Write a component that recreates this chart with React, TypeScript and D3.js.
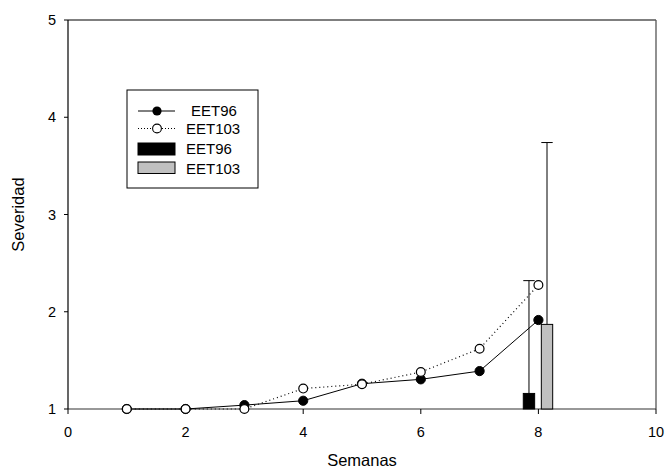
import * as d3 from 'd3';

const weeks = [1, 2, 3, 4, 5, 6, 7, 8];
const eet96Line = [1.0, 1.0, 1.04, 1.085, 1.26, 1.305, 1.39, 1.915];
const eet103Line = [1.0, 1.0, 1.0, 1.21, 1.255, 1.38, 1.62, 2.275];

// bars at week 8 (mean + upper error)
const barSeries = ['EET96', 'EET103'];
const barMeans = [1.16, 1.87];
const barErrors = [1.16, 1.87];
const barFills = ['#000000', '#c0c0c0'];

const xTicks = [0, 2, 4, 6, 8, 10];
const yTicks = [1, 2, 3, 4, 5];

const W = 666;
const H = 474;
const margin = { top: 20, right: 10, bottom: 65, left: 68 };
const FONT = 'Liberation Sans, Arial, sans-serif';

export default function App() {
  const innerW = W - margin.left - margin.right;
  const innerH = H - margin.top - margin.bottom;

  const x = d3.scaleLinear().domain([0, 10]).range([0, innerW]);
  const y = d3.scaleLinear().domain([1, 5]).range([innerH, 0]);

  const band = d3
    .scaleBand<string>()
    .domain(barSeries)
    .range([x(7.743), x(8.243)])
    .paddingInner(0.37)
    .paddingOuter(0);

  const line = d3
    .line<number>()
    .x((_, i) => x(weeks[i]))
    .y((d) => y(d));

  const capW = band.bandwidth();

  return (
    <svg
      width={W}
      height={H}
      style={{ position: 'absolute', left: 0, top: 0, background: '#fff' }}
      fontFamily={FONT}
    >
      <g transform={`translate(${margin.left},${margin.top})`}>
        {/* frame */}
        <line x1={0} x2={innerW} y1={0} y2={0} stroke="#555" strokeWidth={1.3} />
        <line x1={innerW} x2={innerW} y1={0} y2={innerH} stroke="#555" strokeWidth={1.3} />
        <line x1={0} x2={innerW} y1={innerH} y2={innerH} stroke="#333" strokeWidth={1.2} />
        <line x1={0} x2={0} y1={0} y2={innerH} stroke="#000" strokeWidth={1.2} />

        {/* x ticks */}
        {xTicks.map((t) => (
          <g key={`x${t}`} transform={`translate(${x(t)},${innerH})`}>
            <line y1={0} y2={5} stroke="#000" />
            <text y={28} textAnchor="middle" fontSize={14.5} fill="#000">
              {t}
            </text>
          </g>
        ))}

        {/* y ticks */}
        {yTicks.map((t) => (
          <g key={`y${t}`} transform={`translate(0,${y(t)})`}>
            <line x1={0} x2={-4} stroke="#000" />
            <text x={-12} dy="0.35em" textAnchor="end" fontSize={14.5} fill="#000">
              {t}
            </text>
          </g>
        ))}

        {/* bars with upper error bars */}
        {barSeries.map((s, i) => {
          const bx = band(s) || 0;
          const cx = bx + band.bandwidth() / 2;
          const top = y(barMeans[i]);
          const errTop = y(barMeans[i] + barErrors[i]);
          return (
            <g key={s}>
              <line x1={cx} x2={cx} y1={top} y2={errTop} stroke="#000" strokeWidth={1} />
              <line x1={cx - capW / 2} x2={cx + capW / 2} y1={errTop} y2={errTop} stroke="#000" strokeWidth={1} />
              <rect
                x={bx}
                y={top}
                width={band.bandwidth()}
                height={innerH - top}
                fill={barFills[i]}
                stroke="#000"
                strokeWidth={1}
              />
            </g>
          );
        })}

        {/* lines */}
        <path d={line(eet103Line) || ''} fill="none" stroke="#000" strokeWidth={1.2} strokeDasharray="1,3" />
        <path d={line(eet96Line) || ''} fill="none" stroke="#000" strokeWidth={1} />
        {eet96Line.map((v, i) => (
          <circle key={`f${i}`} cx={x(weeks[i])} cy={y(v)} r={4.6} fill="#000" stroke="#000" />
        ))}
        {eet103Line.map((v, i) => (
          <circle key={`o${i}`} cx={x(weeks[i])} cy={y(v)} r={4.4} fill="#fff" stroke="#000" strokeWidth={1.2} />
        ))}
      </g>

      {/* axis titles */}
      <text x={margin.left + innerW / 2} y={466} textAnchor="middle" fontSize={16.5} fill="#000">
        Semanas
      </text>
      <text
        transform={`translate(24,${margin.top + innerH / 2}) rotate(-90)`}
        textAnchor="middle"
        fontSize={16.5}
        fill="#000"
      >
        Severidad
      </text>

      {/* legend */}
      <g transform="translate(127,90)">
        <rect x={0} y={0} width={131} height={98} fill="#fff" stroke="#000" strokeWidth={1} />
        <line x1={11} x2={48} y1={21} y2={21} stroke="#000" />
        <circle cx={30} cy={21} r={4.6} fill="#000" />
        <text x={64} y={21} dy="0.35em" fontSize={15}>EET96</text>

        <line x1={11} x2={48} y1={38.5} y2={38.5} stroke="#000" strokeDasharray="1,2" />
        <circle cx={30} cy={38.5} r={4.4} fill="#fff" stroke="#000" strokeWidth={1.1} />
        <text x={59} y={38.5} dy="0.35em" fontSize={15}>EET103</text>

        <rect x={11} y={53} width={37} height={12} fill="#000" stroke="#000" />
        <text x={59} y={59} dy="0.35em" fontSize={15}>EET96</text>

        <rect x={11} y={72} width={37} height={11.5} fill="#c0c0c0" stroke="#000" />
        <text x={59} y={79} dy="0.35em" fontSize={15}>EET103</text>
      </g>
    </svg>
  );
}
